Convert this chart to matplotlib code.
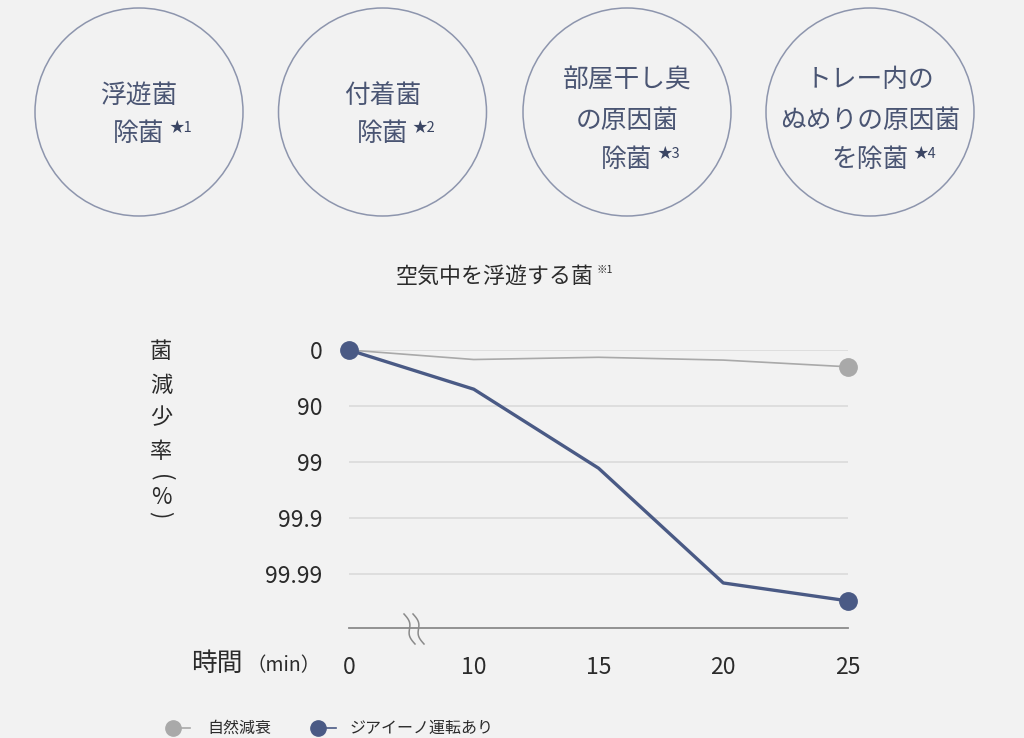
import numpy as np
import matplotlib
matplotlib.use("Agg")
import matplotlib.pyplot as plt
from matplotlib.patches import Circle

plt.rcParams['font.family'] = ['Noto Sans CJK JP', 'DejaVu Sans']

# ---- data ----
times = ["0", "10", "15", "20", "25"]
ytick_labels = ["0", "90", "99", "99.9", "99.99"]          # 菌減少率(%)
natural_decay = [0.0, 0.17, 0.13, 0.18, 0.30]            # log reduction
ziaino_on = [0.0, 0.70, 2.11, 4.16, 4.48]                # log reduction
series_names = ["自然減衰", "ジアイーノ運転あり"]
badges = [
    (["浮遊菌", "除菌"], "★1"),
    (["付着菌", "除菌"], "★2"),
    (["部屋干し臭", "の原因菌", "除菌"], "★3"),
    (["トレー内の", "ぬめりの原因菌", "を除菌"], "★4"),
]
title = "空気中を浮遊する菌"

BG = "#f2f2f2"
BLUE = "#4a5a85"
GRAY = "#a9a9a9"
CIRC_TXT = "#4a5573"
DARK = "#2b2b2b"

W, H = 1024, 738
fig = plt.figure(figsize=(W / 100, H / 100), dpi=100, facecolor=BG)

# canvas axes in pixel coordinates
cv = fig.add_axes([0, 0, 1, 1])
cv.set_xlim(0, W)
cv.set_ylim(H, 0)
cv.axis("off")
cv.set_facecolor(BG)

# ---- badges ----
centers = [139, 382.5, 627, 870]
for (lines, star), cx in zip(badges, centers):
    cv.add_patch(Circle((cx, 112), 104, fill=False, ec="#8d95ad", lw=1.1))
    n = len(lines)
    ys = [96, 134] if n == 2 else [80, 121, 160]
    for t, y in zip(lines, ys):
        cv.text(cx, y, t, ha="center", va="center", fontsize=18.5, color=CIRC_TXT)
    last = lines[-1]
    half = len(last) * 26 / 2
    cv.text(cx + half + 4, ys[-1] - 6, star, ha="left", va="center",
            fontsize=10.5, color="#3a4563")

# ---- title ----
cv.text(594, 277, title, ha="right", va="center", fontsize=15.8, color=DARK)
cv.text(597, 270, "※1", ha="left", va="center", fontsize=7.5, color=DARK)

# ---- main chart axes ----
x0_px, x1_px = 349, 848
ytop_px, ybot_px = 350, 628
per_level = 56.0
ax = fig.add_axes([x0_px / W, 1 - ybot_px / H, (x1_px - x0_px) / W, (ybot_px - ytop_px) / H])
ax.patch.set_alpha(0)
pos = np.arange(len(times))
ax.set_xlim(0, len(times) - 1)
ax.set_ylim((ybot_px - ytop_px) / per_level, 0)

for lv in range(len(ytick_labels)):
    ax.axhline(lv, color="#dcdcdc", lw=1.3, zorder=0)

ax.plot(pos, natural_decay, color=GRAY, lw=1.2, zorder=2, clip_on=False)
ax.plot(pos, ziaino_on, color=BLUE, lw=2.4, zorder=3, clip_on=False)
ax.plot([pos[-1]], [natural_decay[-1]], "o", color=GRAY, ms=12.5, zorder=4, clip_on=False)
ax.plot([pos[0], pos[-1]], [ziaino_on[0], ziaino_on[-1]], "o", color=BLUE, ms=12.5,
        zorder=5, clip_on=False)

for s in ["top", "right", "left"]:
    ax.spines[s].set_visible(False)
ax.spines["bottom"].set_color("#8a8a8a")
ax.spines["bottom"].set_linewidth(1.3)

ax.set_yticks(range(len(ytick_labels)))
ax.set_yticklabels(ytick_labels, fontsize=16.5, color=DARK)
ax.tick_params(axis="y", length=0, pad=19)

ax.set_xticks(pos)
ax.set_xticklabels(times, fontsize=16.5, color=DARK)
ax.tick_params(axis="x", which="major", length=0, pad=20)
ax.set_xticks(pos[1:], minor=True)
ax.tick_params(axis="x", which="minor", direction="in", length=11, width=1.2, color="#8a8a8a")

# axis break marks
for xo in [404, 413]:
    t = np.linspace(0, 1, 40)
    yy = 614 + 30 * t
    xx = xo + 11 * t + 2.5 * np.sin(2 * np.pi * t)
    cv.plot(xx, yy, color="#8a8a8a", lw=1.1)

# x axis label
cv.text(243, 664, "時間", ha="right", va="center", fontsize=18.5, color=DARK)
cv.text(246, 666, "（min）", ha="left", va="center", fontsize=14, color=DARK)

# y axis label (vertical)
ylab = ["菌", "減", "少", "率"]
ylab_y = [352, 385, 418, 451]
for ch, y in zip(ylab, ylab_y):
    cv.text(161, y, ch, ha="center", va="center", fontsize=16, color=DARK)
cv.text(161, 478, "(", ha="center", va="center", fontsize=16, color=DARK,
        rotation=-90, rotation_mode="anchor")
cv.text(161, 497, "%", ha="center", va="center", fontsize=16, color=DARK)
cv.text(161, 515, ")", ha="center", va="center", fontsize=16, color=DARK,
        rotation=-90, rotation_mode="anchor")

# legend
cv.plot([173, 190], [728, 728], color=GRAY, lw=1.2)
cv.plot([173], [728], "o", color=GRAY, ms=11)
cv.text(207, 728, series_names[0], ha="left", va="center", fontsize=11.5, color=DARK)
cv.plot([318, 336], [728, 728], color=BLUE, lw=1.2)
cv.plot([318], [728], "o", color=BLUE, ms=11)
cv.text(350, 728, series_names[1], ha="left", va="center", fontsize=11.5, color=DARK)

fig.savefig("out.png", dpi=100, facecolor=BG)
